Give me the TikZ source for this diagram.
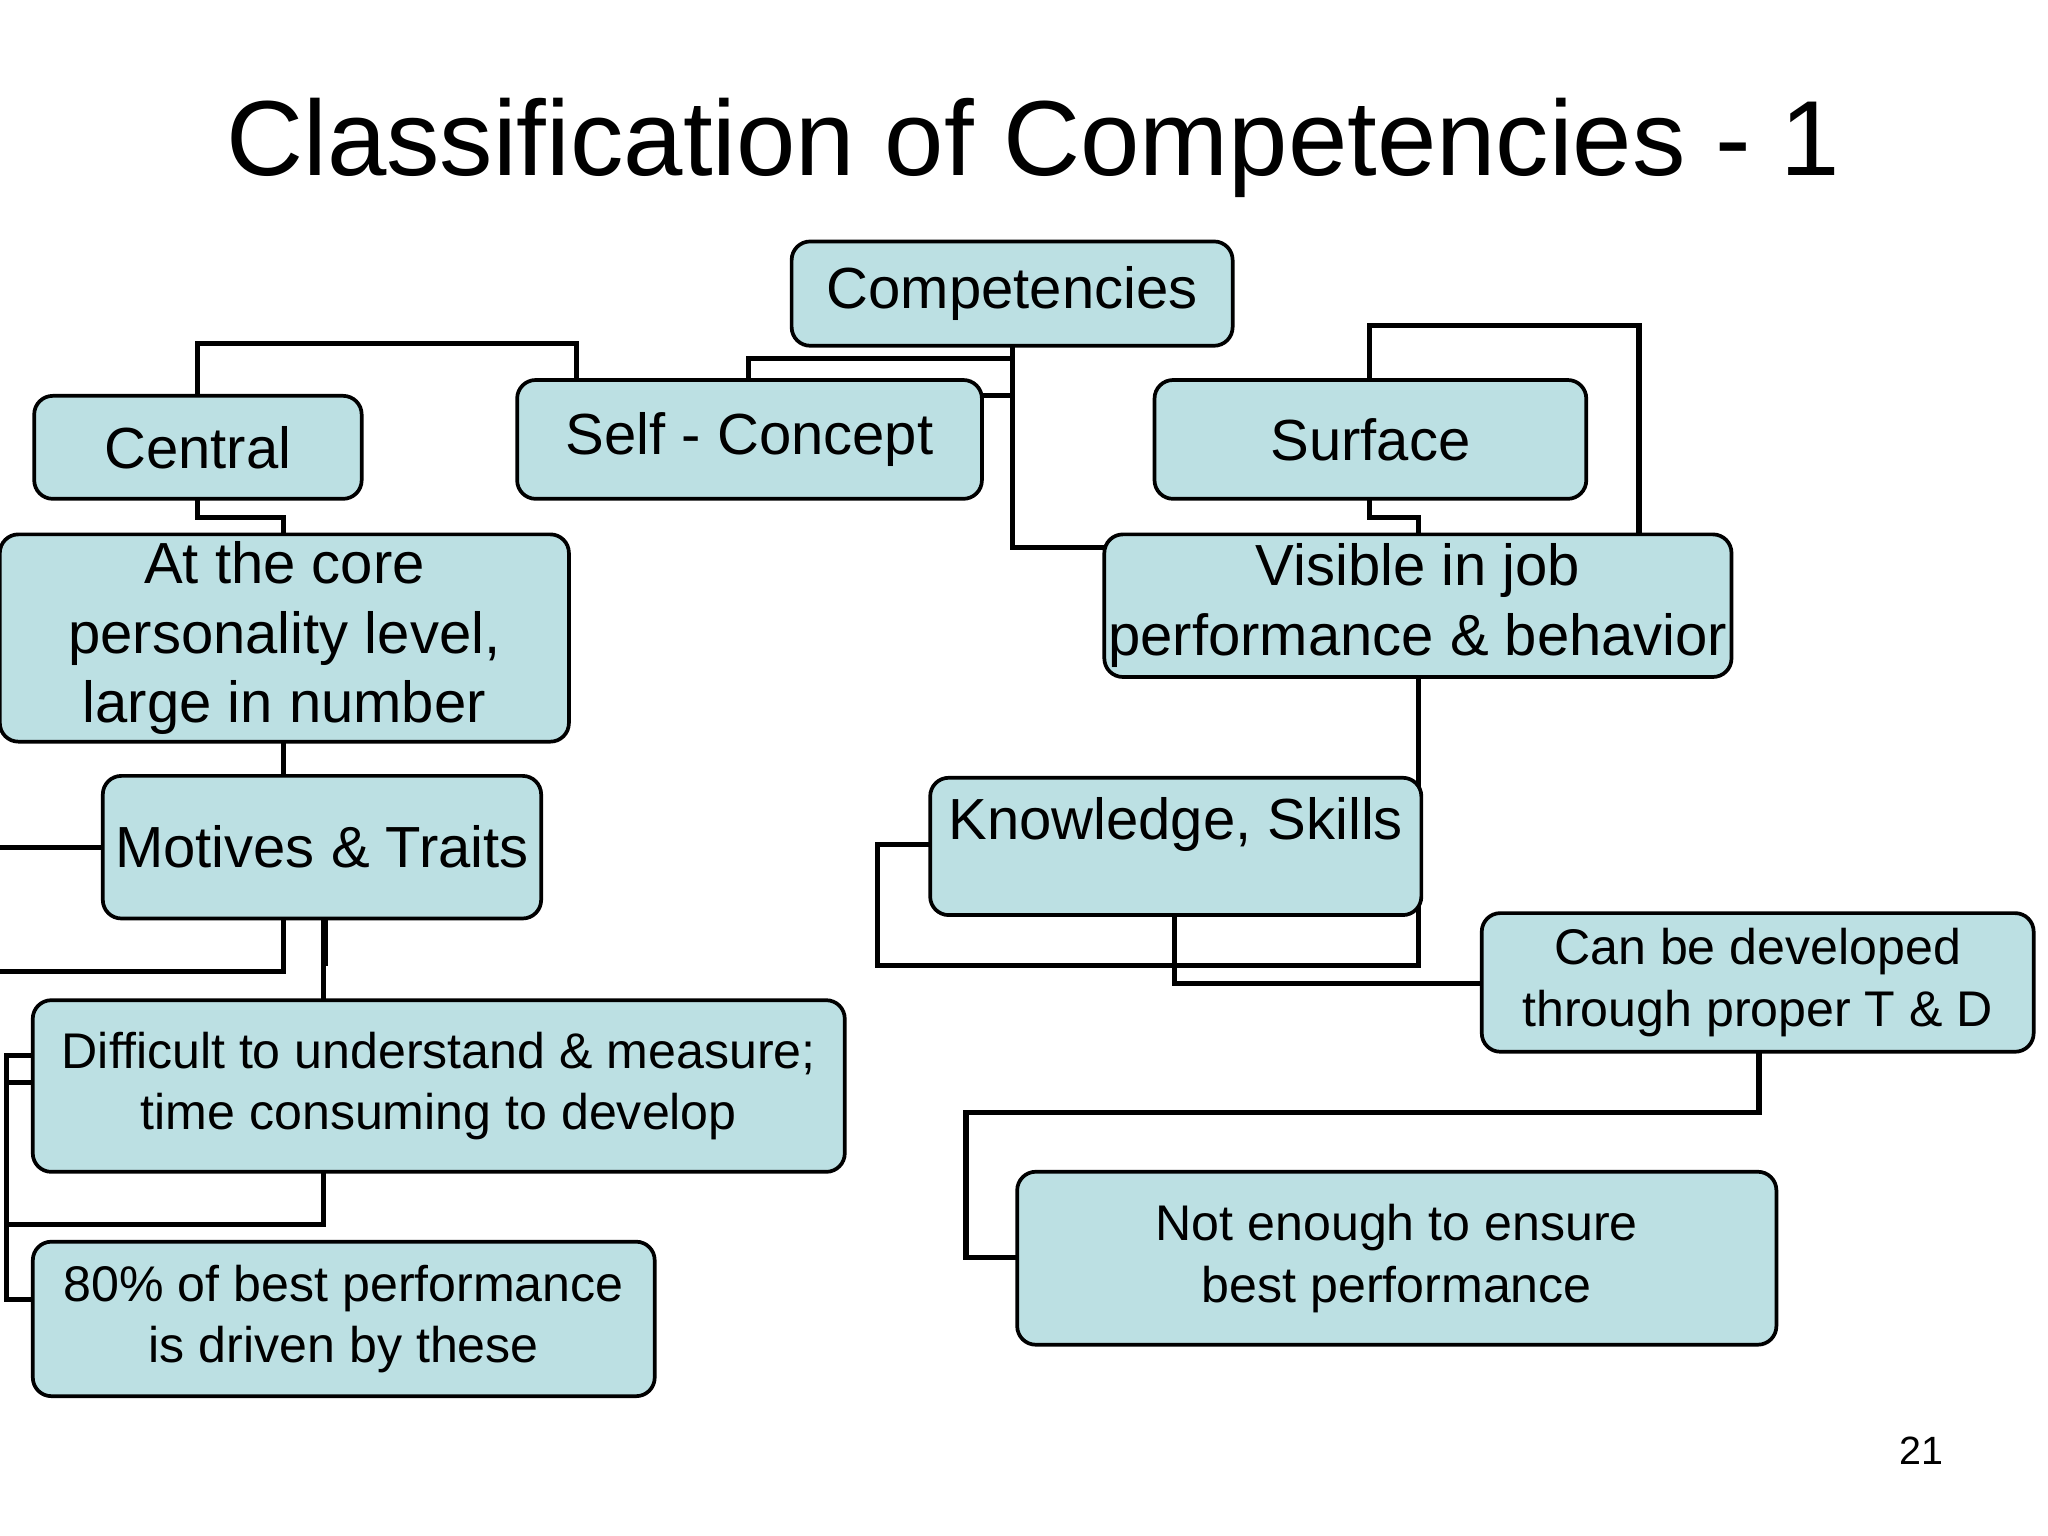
\documentclass[tikz,border=0pt]{standalone}
\usepackage{fontspec}
\setmainfont{Liberation Sans}
\begin{document}
\begin{tikzpicture}[x=0.01cm,y=-0.01cm,
  box/.style={draw=black,fill=boxc,rounded corners=4pt,inner sep=0pt,align=center,line width=0.8pt},
  big/.style={font=\fontsize{12.5}{15}\selectfont},
  small/.style={font=\fontsize{10.8}{13.3}\selectfont},
  link/.style={line width=1.1pt}]
\definecolor{boxc}{HTML}{BCE0E3}
\useasboundingbox (0,0) rectangle (1552,1164);
\node (title) at (783,112) {\fontsize{23}{28}\selectfont Classification of Competencies - 1};
\node (pg) at (1456,1099) {\fontsize{8.5}{10}\selectfont 21};
\coordinate (L1) at (0,642);
\coordinate (L2) at (0,736);
% connectors
\draw[link] (150,300) -- (150,260) -- (437,260) -- (437,288);
\draw[link] (567,288) -- (567,272) -- (767,272);
\draw[link] (745,300) -- (767,300);
\draw[link] (767,262) -- (767,415) -- (837,415);
\draw[link] (1038,288) -- (1038,247) -- (1242,247) -- (1242,405);
\draw[link] (150,378) -- (150,392) -- (215,392) -- (215,405);
\draw[link] (1038,378) -- (1038,392) -- (1075,392) -- (1075,405);
\draw[link] (215,562) -- (215,588);
\draw[link] (L1) -- (78,642);
\draw[link] (215,696) -- (215,736) -- (L2);
\draw[link] (245,696) -- (245,758);
\draw[link] (247,696) -- (247,732);
\draw[link] (245,888) -- (245,928) -- (5,928);
\draw[link] (25,800) -- (5,800) -- (5,985) -- (25,985);
\draw[link] (25,820) -- (5,820);
\draw[link] (1075,513) -- (1075,732) -- (665,732) -- (665,640) -- (705,640);
\draw[link] (890,692) -- (890,745) -- (1123,745);
\draw[link] (1333,797) -- (1333,843) -- (732,843) -- (732,953) -- (771,953);
% nodes
\node[box,big,minimum width=3.34cm,minimum height=0.79cm] (comp) at (767,222.5) {Competencies};
\node[box,big,minimum width=2.48cm,minimum height=0.78cm] (central) at (150,339) {Central};
\node[box,big,minimum width=3.52cm,minimum height=0.90cm] (self) at (568,333) {Self - Concept};
\node[box,big,minimum width=3.27cm,minimum height=0.90cm] (surface) at (1038.5,333) {Surface};
\node[box,big,minimum width=4.31cm,minimum height=1.57cm] (core) at (215.5,483.5) {At the core\\personality level,\\large in number};
\node[box,big,minimum width=4.75cm,minimum height=1.08cm] (visible) at (1074.5,459) {Visible in job\\performance \& behavior};
\node[box,big,minimum width=3.32cm,minimum height=1.08cm] (motives) at (244,642) {Motives \& Traits};
\node[box,big,minimum width=3.72cm,minimum height=1.04cm,anchor=north] (know) at (891,588) {};
\node[big,anchor=north] (knowt) at (891,592) {Knowledge, Skills};
\node[box,small,minimum width=4.18cm,minimum height=1.05cm] (candev) at (1332,744.5) {Can be developed\\through proper T \& D};
\node[box,small,minimum width=6.15cm,minimum height=1.30cm] (diff) at (332.5,823) {Difficult to understand \& measure;\\time consuming to develop};
\node[box,small,minimum width=5.75cm,minimum height=1.31cm] (notenough) at (1058.5,953.5) {Not enough to ensure\\best performance};
\node[box,small,minimum width=4.71cm,minimum height=1.17cm] (eighty) at (260.5,999.5) {80\% of best performance\\is driven by these};
\end{tikzpicture}
\end{document}
